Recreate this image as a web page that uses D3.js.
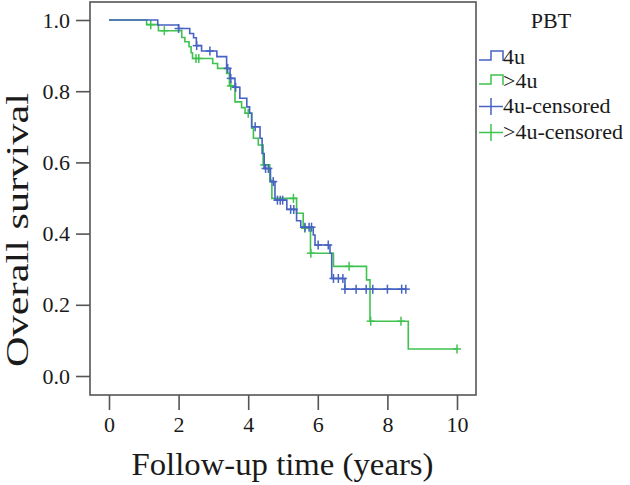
<!DOCTYPE html>
<html><head><meta charset="utf-8">
<script src="https://cdn.jsdelivr.net/npm/d3@7"></script>
<style>body{margin:0;background:#fff}svg{display:block}</style>
</head><body><svg id="c" width="630" height="485"></svg>
<script>
// ---- data ----
const groups = ["4u", ">4u"];
const legendTitle = "PBT";
const xTicks = [0, 2, 4, 6, 8, 10];
const yTicks = [0.0, 0.2, 0.4, 0.6, 0.8, 1.0];

const blueTimes = [0, 1.40, 2.00, 2.32, 2.43, 2.51, 2.66, 3.10, 3.38, 3.48, 3.62, 3.76, 3.96, 4.04, 4.10, 4.34, 4.40, 4.46, 4.64, 4.77, 5.11, 5.39, 5.51, 5.87, 5.92, 6.35, 6.40, 6.78];
const blueSurv  = [1.0, 0.986, 0.976, 0.962, 0.950, 0.928, 0.913, 0.897, 0.864, 0.836, 0.811, 0.780, 0.756, 0.738, 0.700, 0.668, 0.625, 0.583, 0.546, 0.494, 0.468, 0.436, 0.418, 0.396, 0.368, 0.345, 0.274, 0.244];
const blueCensor = [2.00, 2.52, 2.90, 3.41, 3.50, 3.64, 4.20, 4.50, 4.58, 4.72, 4.84, 4.92, 4.99, 5.22, 5.31, 5.63, 5.75, 5.82, 6.01, 6.30, 6.45, 6.59, 6.72, 6.78, 7.10, 7.39, 7.58, 8.00, 8.41, 8.53];
const blueEnd = 8.55;

const greenTimes = [0, 1.08, 1.42, 2.09, 2.18, 2.30, 2.36, 2.40, 2.98, 3.12, 3.38, 3.46, 3.62, 3.81, 3.91, 4.10, 4.15, 4.29, 4.43, 4.62, 4.68, 5.39, 5.58, 5.79, 6.45, 7.40, 7.50, 8.60];
const greenSurv  = [1.0, 0.987, 0.970, 0.951, 0.939, 0.925, 0.908, 0.892, 0.878, 0.864, 0.850, 0.815, 0.770, 0.754, 0.738, 0.696, 0.668, 0.649, 0.593, 0.550, 0.499, 0.457, 0.415, 0.345, 0.308, 0.270, 0.154, 0.076];
const greenCensor = [1.20, 1.59, 2.50, 2.58, 3.50, 4.00, 4.46, 5.30, 5.63, 5.80, 6.90, 7.52, 8.39, 10.0];
const greenEnd = 10.0;

// ---- chart ----
const FONT = "'Liberation Serif', 'Times New Roman', Times, serif";
const svg = d3.select("#c");
const blue = "#4662c2", green = "#3fc24f", frameCol = "#555", textCol = "#1a1a1a";
const x = d3.scaleLinear().domain([0, 10]).range([109, 457]);
const y = d3.scaleLinear().domain([0, 1]).range([376, 20]);

svg.append("rect").attr("x", 90).attr("y", 2).attr("width", 386).attr("height", 393)
  .attr("fill", "none").attr("stroke", frameCol).attr("stroke-width", 1.6);

const gx = svg.append("g").attr("transform", "translate(0,395)")
  .call(d3.axisBottom(x).tickValues(xTicks).tickFormat(d3.format("d")).tickSize(15).tickPadding(6));
const gy = svg.append("g").attr("transform", "translate(90,0)")
  .call(d3.axisLeft(y).tickValues(yTicks).tickFormat(d3.format(".1f")).tickSize(14).tickPadding(6));
[gx, gy].forEach(g => {
  g.attr("font-family", null).attr("font-size", null);
  g.select(".domain").remove();
  g.selectAll(".tick line").attr("stroke", frameCol).attr("stroke-width", 1.6);
  g.selectAll(".tick text").style("font-family", FONT).style("font-size", "22px").attr("fill", textCol);
});

function drawGroup(times, surv, censor, end, col) {
  const pts = times.map((t, i) => [t, surv[i]]);
  pts.push([end, surv[surv.length - 1]]);
  const line = d3.line().x(d => x(d[0])).y(d => y(d[1])).curve(d3.curveStepAfter);
  svg.append("path").attr("d", line(pts)).attr("fill", "none")
    .attr("stroke", col).attr("stroke-width", 1.6);
  const g = svg.append("g").attr("stroke", col).attr("stroke-width", 1.5);
  censor.forEach(c => {
    const i = Math.max(0, d3.bisectRight(times, c) - 1);
    const cx = x(c), cy = y(surv[i]);
    g.append("line").attr("x1", cx).attr("x2", cx).attr("y1", cy - 4.5).attr("y2", cy + 4.5);
    g.append("line").attr("x1", cx - 4).attr("x2", cx + 4).attr("y1", cy).attr("y2", cy);
  });
}
drawGroup(greenTimes, greenSurv, greenCensor, greenEnd, green);
drawGroup(blueTimes, blueSurv, blueCensor, blueEnd, blue);

function txt(sel) { return sel.style("font-family", FONT).attr("fill", textCol); }

// axis titles
txt(svg.append("text")).attr("x", 282.5).attr("y", 475).attr("text-anchor", "middle")
  .style("font-size", "31px").attr("textLength", 302).attr("lengthAdjust", "spacingAndGlyphs")
  .text("Follow-up time (years)");
txt(svg.append("text")).attr("transform", "translate(28,230) rotate(-90)").attr("text-anchor", "middle")
  .style("font-size", "31px").attr("textLength", 274).attr("lengthAdjust", "spacingAndGlyphs")
  .text("Overall survival");

// legend
txt(svg.append("text")).attr("x", 551).attr("y", 28).attr("text-anchor", "middle")
  .style("font-size", "22px").text(legendTitle);
const legItems = [
  {label: groups[0], col: blue, type: "step"},
  {label: groups[1], col: green, type: "step"},
  {label: groups[0] + "-censored", col: blue, type: "cross"},
  {label: groups[1] + "-censored", col: green, type: "cross"}
];
const legBase = [64, 88, 113, 139];
legItems.forEach((it, i) => {
  const b = legBase[i];
  if (it.type === "step") {
    svg.append("path").attr("d", `M479,${b - 4}H491V${b - 13}H503V${b - 3}`)
      .attr("fill", "none").attr("stroke", it.col).attr("stroke-width", 1.5);
  } else {
    const cy = b - 6.5;
    svg.append("line").attr("x1", 479).attr("x2", 503).attr("y1", cy).attr("y2", cy)
      .attr("stroke", it.col).attr("stroke-width", 1.5);
    svg.append("line").attr("x1", 491).attr("x2", 491).attr("y1", cy - 8.5).attr("y2", cy + 8.5)
      .attr("stroke", it.col).attr("stroke-width", 1.5);
  }
  txt(svg.append("text")).attr("x", 503).attr("y", b).style("font-size", "22px").text(it.label);
});
</script></body></html>
